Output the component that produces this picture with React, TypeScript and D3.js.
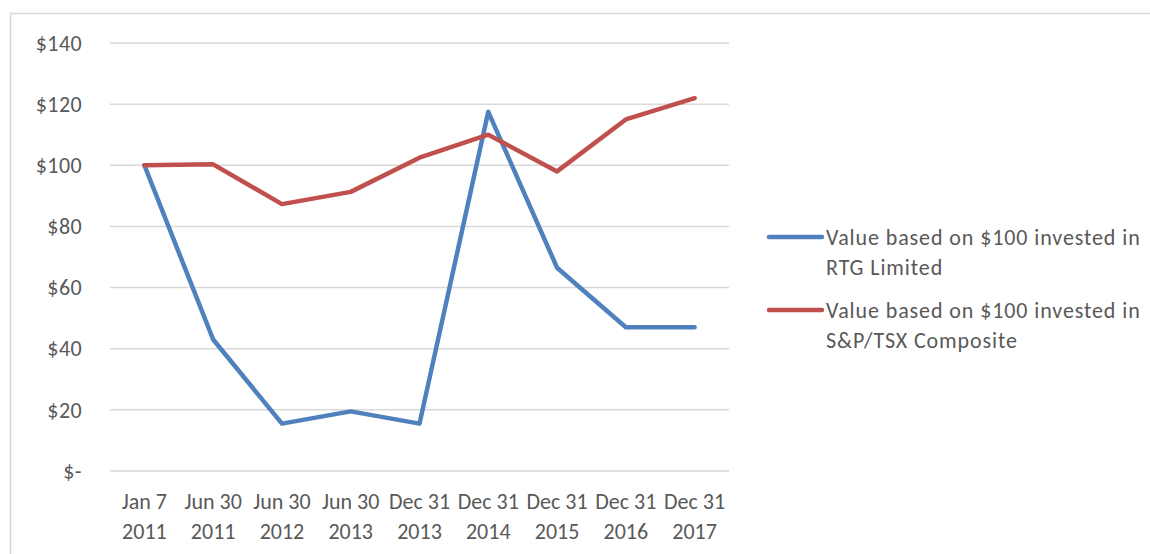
import React, { useEffect, useRef } from "react";
import * as d3 from "d3";

const dates = [
  ["Jan 7", "2011"],
  ["Jun 30", "2011"],
  ["Jun 30", "2012"],
  ["Jun 30", "2013"],
  ["Dec 31", "2013"],
  ["Dec 31", "2014"],
  ["Dec 31", "2015"],
  ["Dec 31", "2016"],
  ["Dec 31", "2017"],
];
const rtgValues = [100, 43, 15.5, 19.5, 15.5, 117.5, 66.5, 47, 47];
const tsxValues = [100, 100.3, 87.3, 91.3, 102.5, 110, 98, 115, 122];
const yTicks = [0, 20, 40, 60, 80, 100, 120, 140];
const seriesNames = [
  ["Value based on $100 invested in", "RTG Limited"],
  ["Value based on $100 invested in", "S&P/TSX Composite"],
];
const colors = ["#4f81bd", "#c0504d"];

const App = () => {
  const ref = useRef<SVGSVGElement>(null);

  useEffect(() => {
    const width = 1150;
    const height = 554;
    const svg = d3.select(ref.current);
    svg.selectAll("*").remove();

    const font = "Calibri, Carlito, Lato, sans-serif";
    const textColor = "#595959";
    const fs = 22;

    // outer chart border
    svg
      .append("rect")
      .attr("x", 10.5)
      .attr("y", 13.5)
      .attr("width", width + 20)
      .attr("height", height + 20)
      .attr("fill", "#fff")
      .attr("stroke", "#d9d9d9")
      .attr("stroke-width", 1.5);

    const x = d3
      .scaleBand()
      .domain(dates.map((d, i) => String(i)))
      .range([110, 729]);

    const y = d3.scaleLinear().domain([0, 140]).range([471, 43]);

    // gridlines
    svg
      .append("g")
      .selectAll("line")
      .data(yTicks)
      .join("line")
      .attr("x1", 110)
      .attr("x2", 729)
      .attr("y1", (d) => y(d))
      .attr("y2", (d) => y(d))
      .attr("stroke", "#d9d9d9")
      .attr("stroke-width", 1.5);

    // y labels
    svg
      .append("g")
      .selectAll("text")
      .data(yTicks)
      .join("text")
      .attr("x", 82)
      .attr("y", (d) => y(d))
      .attr("dy", "0.35em")
      .attr("text-anchor", "end")
      .attr("font-family", font)
      .attr("font-size", fs)
      .attr("letter-spacing", 0.4)
      .attr("fill", textColor)
      .text((d) => (d === 0 ? "$-" : `$${d}`));

    // x labels
    const cx = (i: number) => x(String(i))! + x.bandwidth() / 2;
    const xl = svg
      .append("g")
      .selectAll("text")
      .data(dates)
      .join("text")
      .attr("y", 509)
      .attr("text-anchor", "middle")
      .attr("font-family", font)
      .attr("font-size", fs)
      .attr("fill", textColor);
    xl.append("tspan")
      .attr("x", (d, i) => cx(i))
      .text((d) => d[0]);
    xl.append("tspan")
      .attr("x", (d, i) => cx(i))
      .attr("dy", 30)
      .text((d) => d[1]);

    const line = d3
      .line<number>()
      .x((d, i) => cx(i))
      .y((d) => y(d));

    [rtgValues, tsxValues].forEach((vals, k) => {
      svg
        .append("path")
        .attr("d", line(vals))
        .attr("fill", "none")
        .attr("stroke", colors[k])
        .attr("stroke-width", 4.5)
        .attr("stroke-linejoin", "round")
        .attr("stroke-linecap", "round");
    });

    // legend
    const legendY = [237, 310];
    seriesNames.forEach((name, k) => {
      const g = svg.append("g").attr("transform", `translate(0,${legendY[k]})`);
      g.append("line")
        .attr("x1", 769)
        .attr("x2", 822)
        .attr("stroke", colors[k])
        .attr("stroke-width", 4.5)
        .attr("stroke-linecap", "round");
      const t = g
        .append("text")
        .attr("font-family", font)
        .attr("font-size", fs)
        .attr("letter-spacing", 0.9)
        .attr("fill", textColor);
      t.append("tspan").attr("x", 826).attr("y", 0).attr("dy", "0.35em").text(name[0]);
      t.append("tspan").attr("x", 826).attr("y", 30).attr("dy", "0.35em").text(name[1]);
    });
  }, []);

  return (
    <svg
      ref={ref}
      width={1150}
      height={554}
      style={{ position: "absolute", left: 0, top: 0, background: "#fff" }}
    ></svg>
  );
};

export default App;
